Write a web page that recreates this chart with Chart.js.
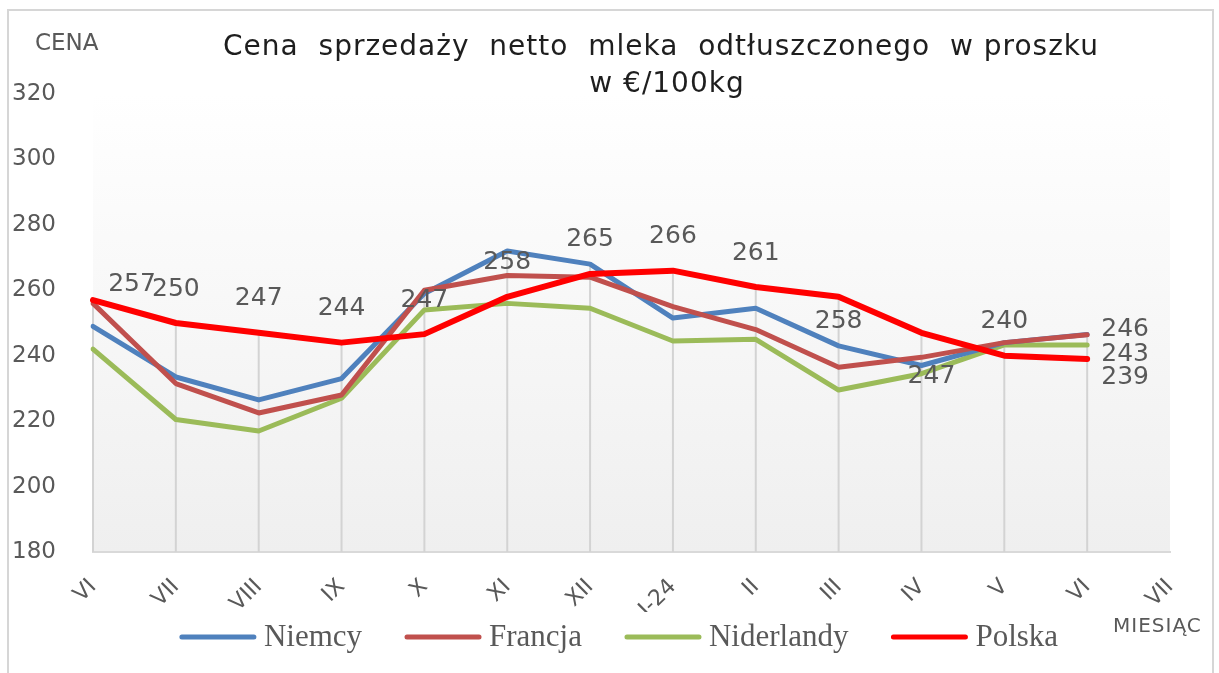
<!DOCTYPE html>
<html><head><meta charset="utf-8">
<script src="https://cdn.jsdelivr.net/npm/chart.js@4.4.1/dist/chart.umd.min.js"></script>
<style>html,body{margin:0;padding:0;background:#fff;}</style>
</head><body>
<canvas id="c" width="1219" height="673"></canvas>
<script>
// ---- data ----
const categories = ['VI','VII','VIII','IX','X','XI','XII','I-24','II','III','IV','V','VI','VII'];
const niemcy     = [249, 233.5, 226.5, 233, 259, 272, 268, 251.5, 254.5, 243, 237, 244, 246.5];
const francja    = [256, 231.5, 222.5, 228, 260, 264.5, 264, 255, 248, 236.5, 239.5, 244, 246.4];
const niderlandy = [242, 220.5, 217, 227, 254, 256, 254.5, 244.5, 245, 229.5, 234.5, 243.3, 243.3];
const polska     = [257, 250, 247, 244, 246.6, 258, 265, 266, 261, 258, 247, 240, 239];
const seriesNames = ['Niemcy','Francja','Niderlandy','Polska'];
const yTicks = {min: 180, max: 320, step: 20};

// ---- styles ----
const colors = ['#4f81bd','#c0504d','#9bbb59','#ff0000'];
const GRAY = '#595959';
const labelOffsets = {
  above:[0,-34], below:[0,25], belowFar:[10,44], aboveRight:[39,-16], right:[38,-5], rightBelow:[38,19], rightMid:[38,10]
};
// which points get value labels: dataset index -> {pointIndex: position}
const labelPlan = {
  3: {0:'aboveRight',1:'above',2:'above',3:'above',4:'above',5:'above',6:'above',7:'above',8:'above',9:'below',10:'belowFar',11:'above',12:'rightBelow'},
  1: {12:'right'},
  2: {12:'rightMid'}
};

const bgPlugin = {
  id:'bg',
  beforeDraw(chart){
    const {ctx, chartArea:a} = chart;
    ctx.save();
    ctx.fillStyle = '#fff';
    ctx.fillRect(0,0,chart.width,chart.height);
    const g = ctx.createLinearGradient(0,a.top,0,a.bottom);
    g.addColorStop(0,'#ffffff');
    g.addColorStop(1,'#efefef');
    ctx.fillStyle = g;
    ctx.fillRect(a.left,a.top,a.right-a.left,a.bottom-a.top);
    // outer frame
    ctx.strokeStyle = '#d6d6d6';
    ctx.lineWidth = 2;
    ctx.beginPath();
    ctx.moveTo(8,chart.height+2); ctx.lineTo(8,10); ctx.lineTo(1213,10); ctx.lineTo(1213,chart.height+2);
    ctx.stroke();
    ctx.restore();
  }
};

const dropPlugin = {
  id:'drop',
  beforeDatasetsDraw(chart){
    const {ctx, chartArea:a, scales:{x,y}} = chart;
    const ds = chart.data.datasets;
    ctx.save();
    ctx.strokeStyle = '#d3d3d3';
    ctx.lineWidth = 2;
    for (let i=0;i<categories.length;i++){
      const vals = ds.map(d=>d.data[i]).filter(v=>v!==undefined && v!==null);
      if (!vals.length) continue;
      const top = y.getPixelForValue(Math.max(...vals));
      const px = x.getPixelForValue(i);
      ctx.beginPath(); ctx.moveTo(px,top); ctx.lineTo(px,a.bottom); ctx.stroke();
    }
    ctx.restore();
  }
};

const labelPlugin = {
  id:'vlabels',
  afterDatasetsDraw(chart){
    const {ctx} = chart;
    ctx.save();
    ctx.font = '25px "DejaVu Sans"';
    ctx.fillStyle = GRAY;
    ctx.textAlign = 'center';
    ctx.textBaseline = 'middle';
    Object.keys(labelPlan).forEach(di=>{
      const meta = chart.getDatasetMeta(+di);
      const plan = labelPlan[di];
      Object.keys(plan).forEach(pi=>{
        const el = meta.data[+pi];
        const v = chart.data.datasets[+di].data[+pi];
        const off = labelOffsets[plan[pi]];
        ctx.fillText(String(Math.round(v)), el.x+off[0], el.y+off[1]);
      });
    });
    ctx.restore();
  }
};

const textPlugin = {
  id:'texts',
  afterDraw(chart){
    const {ctx} = chart;
    ctx.save();
    // title
    ctx.fillStyle = '#1e1e1e';
    ctx.font = '28px "DejaVu Sans"';
    ctx.textAlign = 'center';
    ctx.textBaseline = 'alphabetic';
    try { ctx.letterSpacing = '1px'; } catch(e) {}
    ctx.fillText('Cena  sprzedaży  netto  mleka  odtłuszczonego  w proszku', 661, 55);
    ctx.fillText('w €/100kg', 667, 92);
    try { ctx.letterSpacing = '0px'; } catch(e) {}
    // axis titles
    ctx.fillStyle = GRAY;
    ctx.textAlign = 'left';
    ctx.font = '23px "DejaVu Sans"';
    ctx.fillText('CENA', 35, 50);
    ctx.font = '20px "DejaVu Sans"';
    try { ctx.letterSpacing = '1px'; } catch(e) {}
    ctx.fillText('MIESIĄC', 1113, 632);
    try { ctx.letterSpacing = '0px'; } catch(e) {}
    // legend
    ctx.font = '31px "Liberation Serif"';
    const lineLen = 76, gap = 8, itemGap = 43;
    const widths = seriesNames.map(n=>lineLen+gap+ctx.measureText(n).width);
    const total = widths.reduce((s,w)=>s+w,0) + itemGap*(widths.length-1);
    let x0 = 619 - total/2;
    const ly = 637;
    seriesNames.forEach((n,i)=>{
      ctx.strokeStyle = colors[i];
      ctx.lineWidth = 5;
      ctx.lineCap = 'round';
      ctx.beginPath(); ctx.moveTo(x0+2,ly); ctx.lineTo(x0+lineLen-2,ly); ctx.stroke();
      ctx.fillStyle = GRAY;
      ctx.fillText(n, x0+lineLen+gap, 646);
      x0 += widths[i] + itemGap;
    });
    ctx.restore();
  }
};

const seriesData = [niemcy, francja, niderlandy, polska];
const drawOrder = [2,1,3,0];
const datasets = seriesData.map((d,i)=>({
  label: seriesNames[i],
  data: d,
  borderColor: colors[i],
  backgroundColor: colors[i],
  borderWidth: i===3 ? 6 : 5,
  pointRadius: 0,
  tension: 0,
  borderJoinStyle: 'round',
  borderCapStyle: 'round',
  order: drawOrder[i]
}));

new Chart(document.getElementById('c').getContext('2d'), {
  type: 'line',
  data: { labels: categories, datasets },
  options: {
    responsive: false,
    animation: false,
    layout: { padding: { left: 12, right: 49, top: 94, bottom: 61 } },
    plugins: { legend: { display: false }, title: { display: false }, tooltip: { enabled: false } },
    scales: {
      x: {
        type: 'category', offset: false,
        grid: { display: false },
        border: { display: true, color: '#d9d9d9', width: 2 },
        ticks: { minRotation: 45, maxRotation: 45, autoSkip: false, color: GRAY, font: { family: 'DejaVu Sans', size: 22 }, padding: 14 },
        afterFit(s){ s.height = 60; }
      },
      y: {
        min: yTicks.min, max: yTicks.max,
        ticks: { stepSize: yTicks.step, color: GRAY, font: { family: 'DejaVu Sans', size: 23 }, crossAlign: 'far' },
        grid: { display: false },
        border: { display: false },
        afterFit(s){ s.width = 81; }
      }
    }
  },
  plugins: [bgPlugin, dropPlugin, labelPlugin, textPlugin]
});
</script>
</body></html>
